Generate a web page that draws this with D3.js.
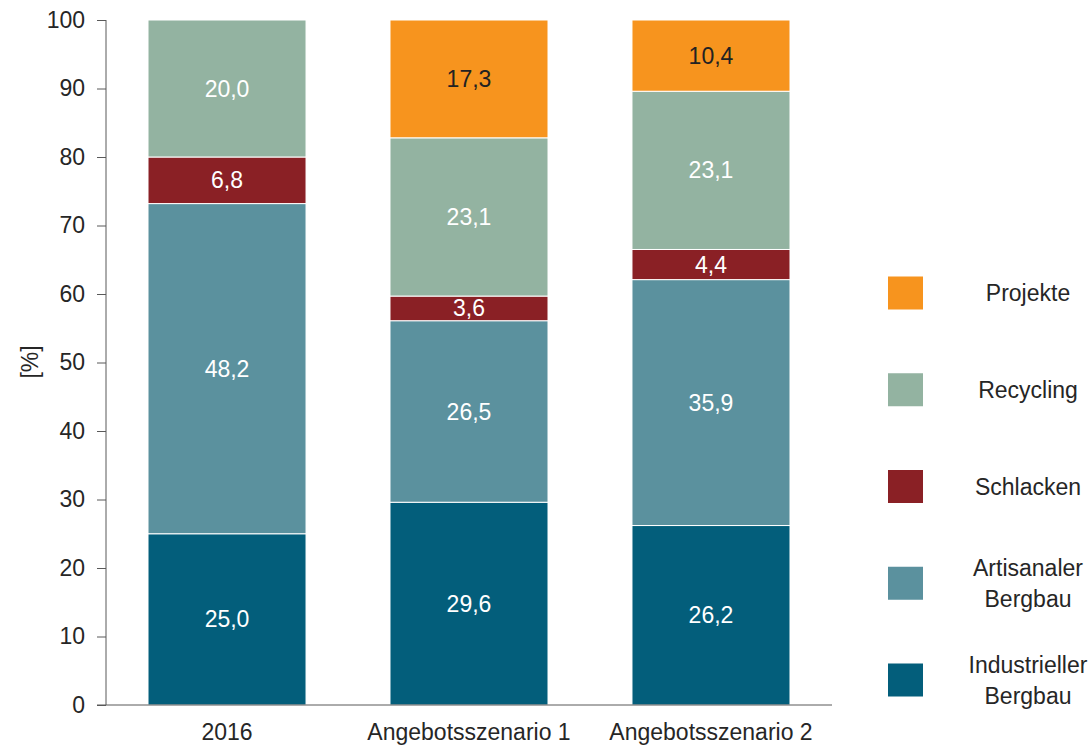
<!DOCTYPE html>
<html><head><meta charset="utf-8">
<script src="https://cdn.jsdelivr.net/npm/d3@7"></script>
<style>body{margin:0;background:#fff}svg{display:block}text{font-family:"Liberation Sans",Arial,sans-serif}</style>
</head><body><svg id="c" width="1088" height="747"></svg>
<script>
const categories = ["2016", "Angebotsszenario 1", "Angebotsszenario 2"];
const seriesNames = ["Industrieller Bergbau", "Artisanaler Bergbau", "Schlacken", "Recycling", "Projekte"];
const industrieller = [25.0, 29.6, 26.2];
const artisanaler = [48.2, 26.5, 35.9];
const schlacken = [6.8, 3.6, 4.4];
const recycling = [20.0, 23.1, 23.1];
const projekte = [0, 17.3, 10.4];
const yTicks = [0,10,20,30,40,50,60,70,80,90,100];
const legendLabels = [["Projekte"],["Recycling"],["Schlacken"],["Artisanaler","Bergbau"],["Industrieller","Bergbau"]];
const colors = ["#035e7b", "#5b919e", "#8a2025", "#93b3a1", "#f7941e"];
const labelColors = ["#fff","#fff","#fff","#fff","#222"];

const FS = 23;
const seriesVals = [industrieller, artisanaler, schlacken, recycling, projekte];
const svg = d3.select("#c");
const x = d3.scaleBand().domain(categories).range([106, 832]).paddingInner(0.347).paddingOuter(0.1736);
const y = d3.scaleLinear().domain([0, 100]).range([705, 20]);

const fmt = v => v.toFixed(1).replace(".", ",");
seriesVals.forEach((vals, si) => {
  vals.forEach((v, ci) => {
    if (v <= 0) return;
    let base = 0;
    for (let k = 0; k < si; k++) base += seriesVals[k][ci];
    const top = Math.min(100, base + v);
    const y0 = y(base), y1 = y(top);
    svg.append("rect").attr("x", x(categories[ci])).attr("width", x.bandwidth())
      .attr("y", y1).attr("height", y0 - y1).attr("fill", colors[si])
      .attr("stroke", "#fff").attr("stroke-width", 1);
    svg.append("text").attr("x", x(categories[ci]) + x.bandwidth()/2).attr("y", (y0 + y1)/2)
      .attr("dy", "0.35em").attr("text-anchor", "middle").attr("font-size", FS)
      .attr("fill", labelColors[si]).text(fmt(v));
  });
});

const yAxis = svg.append("g").attr("transform", "translate(106,0)")
  .call(d3.axisLeft(y).tickValues(yTicks).tickSize(9).tickPadding(12));
yAxis.select(".domain").attr("stroke", "#595959").attr("d", "M0,20V705");
yAxis.selectAll(".tick line").attr("stroke", "#595959");
yAxis.selectAll(".tick text").attr("font-size", FS).attr("fill", "#262626")
  .attr("font-family", '"Liberation Sans",Arial,sans-serif');

const xAxis = svg.append("g").attr("transform", "translate(0,705)")
  .call(d3.axisBottom(x).tickSize(0).tickPadding(19));
xAxis.select(".domain").attr("stroke", "#595959").attr("d", "M97,0H832");
xAxis.selectAll(".tick text").attr("font-size", FS).attr("fill", "#262626")
  .attr("font-family", '"Liberation Sans",Arial,sans-serif');

svg.append("text").attr("transform", "translate(30,362) rotate(-90)")
  .attr("text-anchor", "middle").attr("dy", "0.35em").attr("font-size", FS).attr("fill", "#262626").text("[%]");

const legendY = d3.scalePoint().domain(legendLabels.map((d,i)=>i)).range([293, 680]);
legendLabels.forEach((lines, i) => {
  const cy = legendY(i);
  svg.append("rect").attr("x", 888).attr("y", cy - 16.5).attr("width", 35).attr("height", 33)
    .attr("fill", colors[4 - i]);
  const t = svg.append("text").attr("x", 1028).attr("text-anchor", "middle")
    .attr("font-size", FS).attr("fill", "#262626");
  const n = lines.length;
  lines.forEach((l, j) => {
    t.append("tspan").attr("x", 1028).attr("y", cy + (j - (n-1)/2) * 31).attr("dy", "0.35em").text(l);
  });
});
</script></body></html>
